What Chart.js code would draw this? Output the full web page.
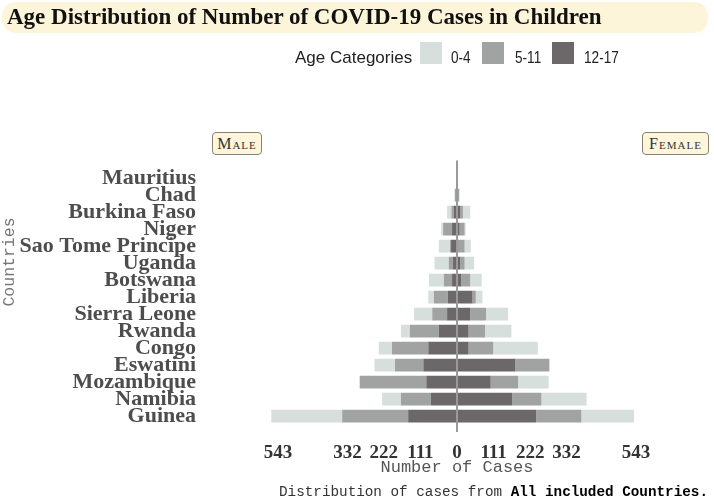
<!DOCTYPE html>
<html><head><meta charset="utf-8">
<script src="https://cdn.jsdelivr.net/npm/chart.js@4.4.1/dist/chart.umd.min.js"></script>
<style>
html,body{margin:0;padding:0;background:#fff;}
#wrap{position:relative;width:714px;height:497px;overflow:hidden;}
canvas{position:absolute;left:0;top:0;}
.t{position:absolute;white-space:nowrap;}
#titlebox{position:absolute;left:2px;top:2px;width:706px;height:31px;background:#fdf5da;border-radius:14px;}
#title{left:7px;top:5px;font:bold 23px "Liberation Serif",serif;line-height:23px;color:#111;}
#legtitle{left:295px;top:49px;font:17px "Liberation Sans",Arial,sans-serif;line-height:17px;color:#222;}
.sw{position:absolute;top:42px;width:22px;height:22px;}
.ll{position:absolute;top:49px;font:17px "Liberation Sans",Arial,sans-serif;line-height:17px;color:#222;transform:scaleX(0.8);transform-origin:left center;white-space:nowrap;}
.facet{position:absolute;top:132px;height:23px;box-sizing:border-box;border:1px solid #8a8270;border-radius:4px;background:#fdf6dc;font:16px "Liberation Serif",serif;font-variant:small-caps;letter-spacing:1px;color:#333;text-align:center;line-height:21px;}
#ytitle{left:-50px;top:252px;width:120px;height:20px;line-height:20px;text-align:center;font:16.5px "Courier New","Liberation Mono",monospace;color:#777;transform:rotate(-90deg);}
#caption{right:6px;top:484px;font:14.3px "Courier New","Liberation Mono",monospace;line-height:16px;color:#333;}
#caption b{color:#000;}
</style></head>
<body>
<div id="wrap">
<div id="titlebox"></div>
<canvas id="c" width="714" height="497"></canvas>
<div class="t" id="title">Age Distribution of Number of COVID-19 Cases in Children</div>
<div class="t" id="legtitle">Age Categories</div>
<div class="sw" style="left:420px;background:#d6dfdc"></div>
<div class="ll" style="left:451px">0-4</div>
<div class="sw" style="left:482px;background:#a1a3a2"></div>
<div class="ll" style="left:515px">5-11</div>
<div class="sw" style="left:552px;background:#6c6768"></div>
<div class="ll" style="left:584px">12-17</div>
<div class="facet" style="left:212px;width:50px">Male</div>
<div class="facet" style="left:642px;width:67px">Female</div>
<div class="t" id="ytitle">Countries</div>
<div class="t" id="caption">Distribution of cases from <b>All included Countries.</b></div>
</div>
<script>
const countries = ["Mauritius","Chad","Burkina Faso","Niger","Sao Tome Principe","Uganda","Botswana","Liberia","Sierra Leone","Rwanda","Congo","Eswatini","Mozambique","Namibia","Guinea"];
const male_12_17 = [1, 2, 10, 15, 18, 12, 15, 28, 30, 55, 87, 102, 93, 79, 148];
const male_5_11  = [1, 4, 7, 27, 3, 13, 25, 42, 45, 88, 110, 86, 202, 91, 200];
const male_0_4   = [1, 2, 13, 6, 34, 43, 45, 17, 55, 27, 40, 62, 0, 57, 215];
const female_12_17 = [1, 2, 10, 8, 2, 10, 13, 47, 40, 35, 35, 177, 102, 167, 240];
const female_5_11  = [1, 4, 8, 15, 21, 13, 27, 10, 48, 50, 75, 103, 83, 89, 137];
const female_0_4   = [1, 2, 22, 3, 19, 29, 35, 20, 67, 80, 135, 0, 93, 137, 160];
const tickValues = [-543, -332, -222, -111, 0, 111, 222, 332, 543];

const colors = {"0-4":"#d6dfdc","5-11":"#a1a3a2","12-17":"#6c6768"};
const neg = a => a.map(v => -v);
function ds(label, data){
  return {label, data, backgroundColor: colors[label], borderWidth:0, stack:'s', barPercentage:0.75, categoryPercentage:1.0};
}
const centerLine = {
  id:'centerLine',
  afterDatasetsDraw(chart){
    const x = chart.scales.x.getPixelForValue(0);
    const {top,bottom} = chart.chartArea;
    const c = chart.ctx;
    c.save(); c.strokeStyle='#9a9a9a'; c.lineWidth=2;
    c.beginPath(); c.moveTo(x, top-9); c.lineTo(x, bottom+7.5); c.stroke(); c.restore();
  }
};
new Chart(document.getElementById('c'), {
  type:'bar',
  data:{labels:countries, datasets:[
    ds('12-17', neg(male_12_17)), ds('5-11', neg(male_5_11)), ds('0-4', neg(male_0_4)),
    ds('12-17', female_12_17), ds('5-11', female_5_11), ds('0-4', female_0_4)
  ]},
  options:{
    indexAxis:'y', responsive:false, animation:false, devicePixelRatio:1,
    layout:{padding:{top:169.5,right:5,left:0,bottom:0}},
    plugins:{legend:{display:false}, tooltip:{enabled:false}, title:{display:false}},
    scales:{
      x:{type:'linear', stacked:true, min:-764, max:764,
        afterBuildTicks: s => { s.ticks = tickValues.map(v => ({value:v})); },
        ticks:{callback: v => String(Math.abs(v)), font:{family:"'Liberation Serif', serif", weight:'bold', size:19}, color:'#333', padding:17, maxRotation:0, autoSkip:false},
        grid:{display:false, drawTicks:false}, border:{display:false},
        title:{display:true, text:'Number of Cases', font:{family:"'Courier New', 'Liberation Mono', monospace", size:17}, color:'#555', padding:{top:0,bottom:19}},
        afterFit: s => { s.height = 72.5; }
      },
      y:{type:'category', stacked:true, offset:true,
        ticks:{font:{family:"'Liberation Serif', serif", weight:'bold', size:22}, color:'#4d4d4d', padding:9, autoSkip:false},
        grid:{display:false, drawTicks:false}, border:{display:false},
        afterFit: s => { s.width = 205; }
      }
    }
  },
  plugins:[centerLine]
});
</script>
</body></html>
